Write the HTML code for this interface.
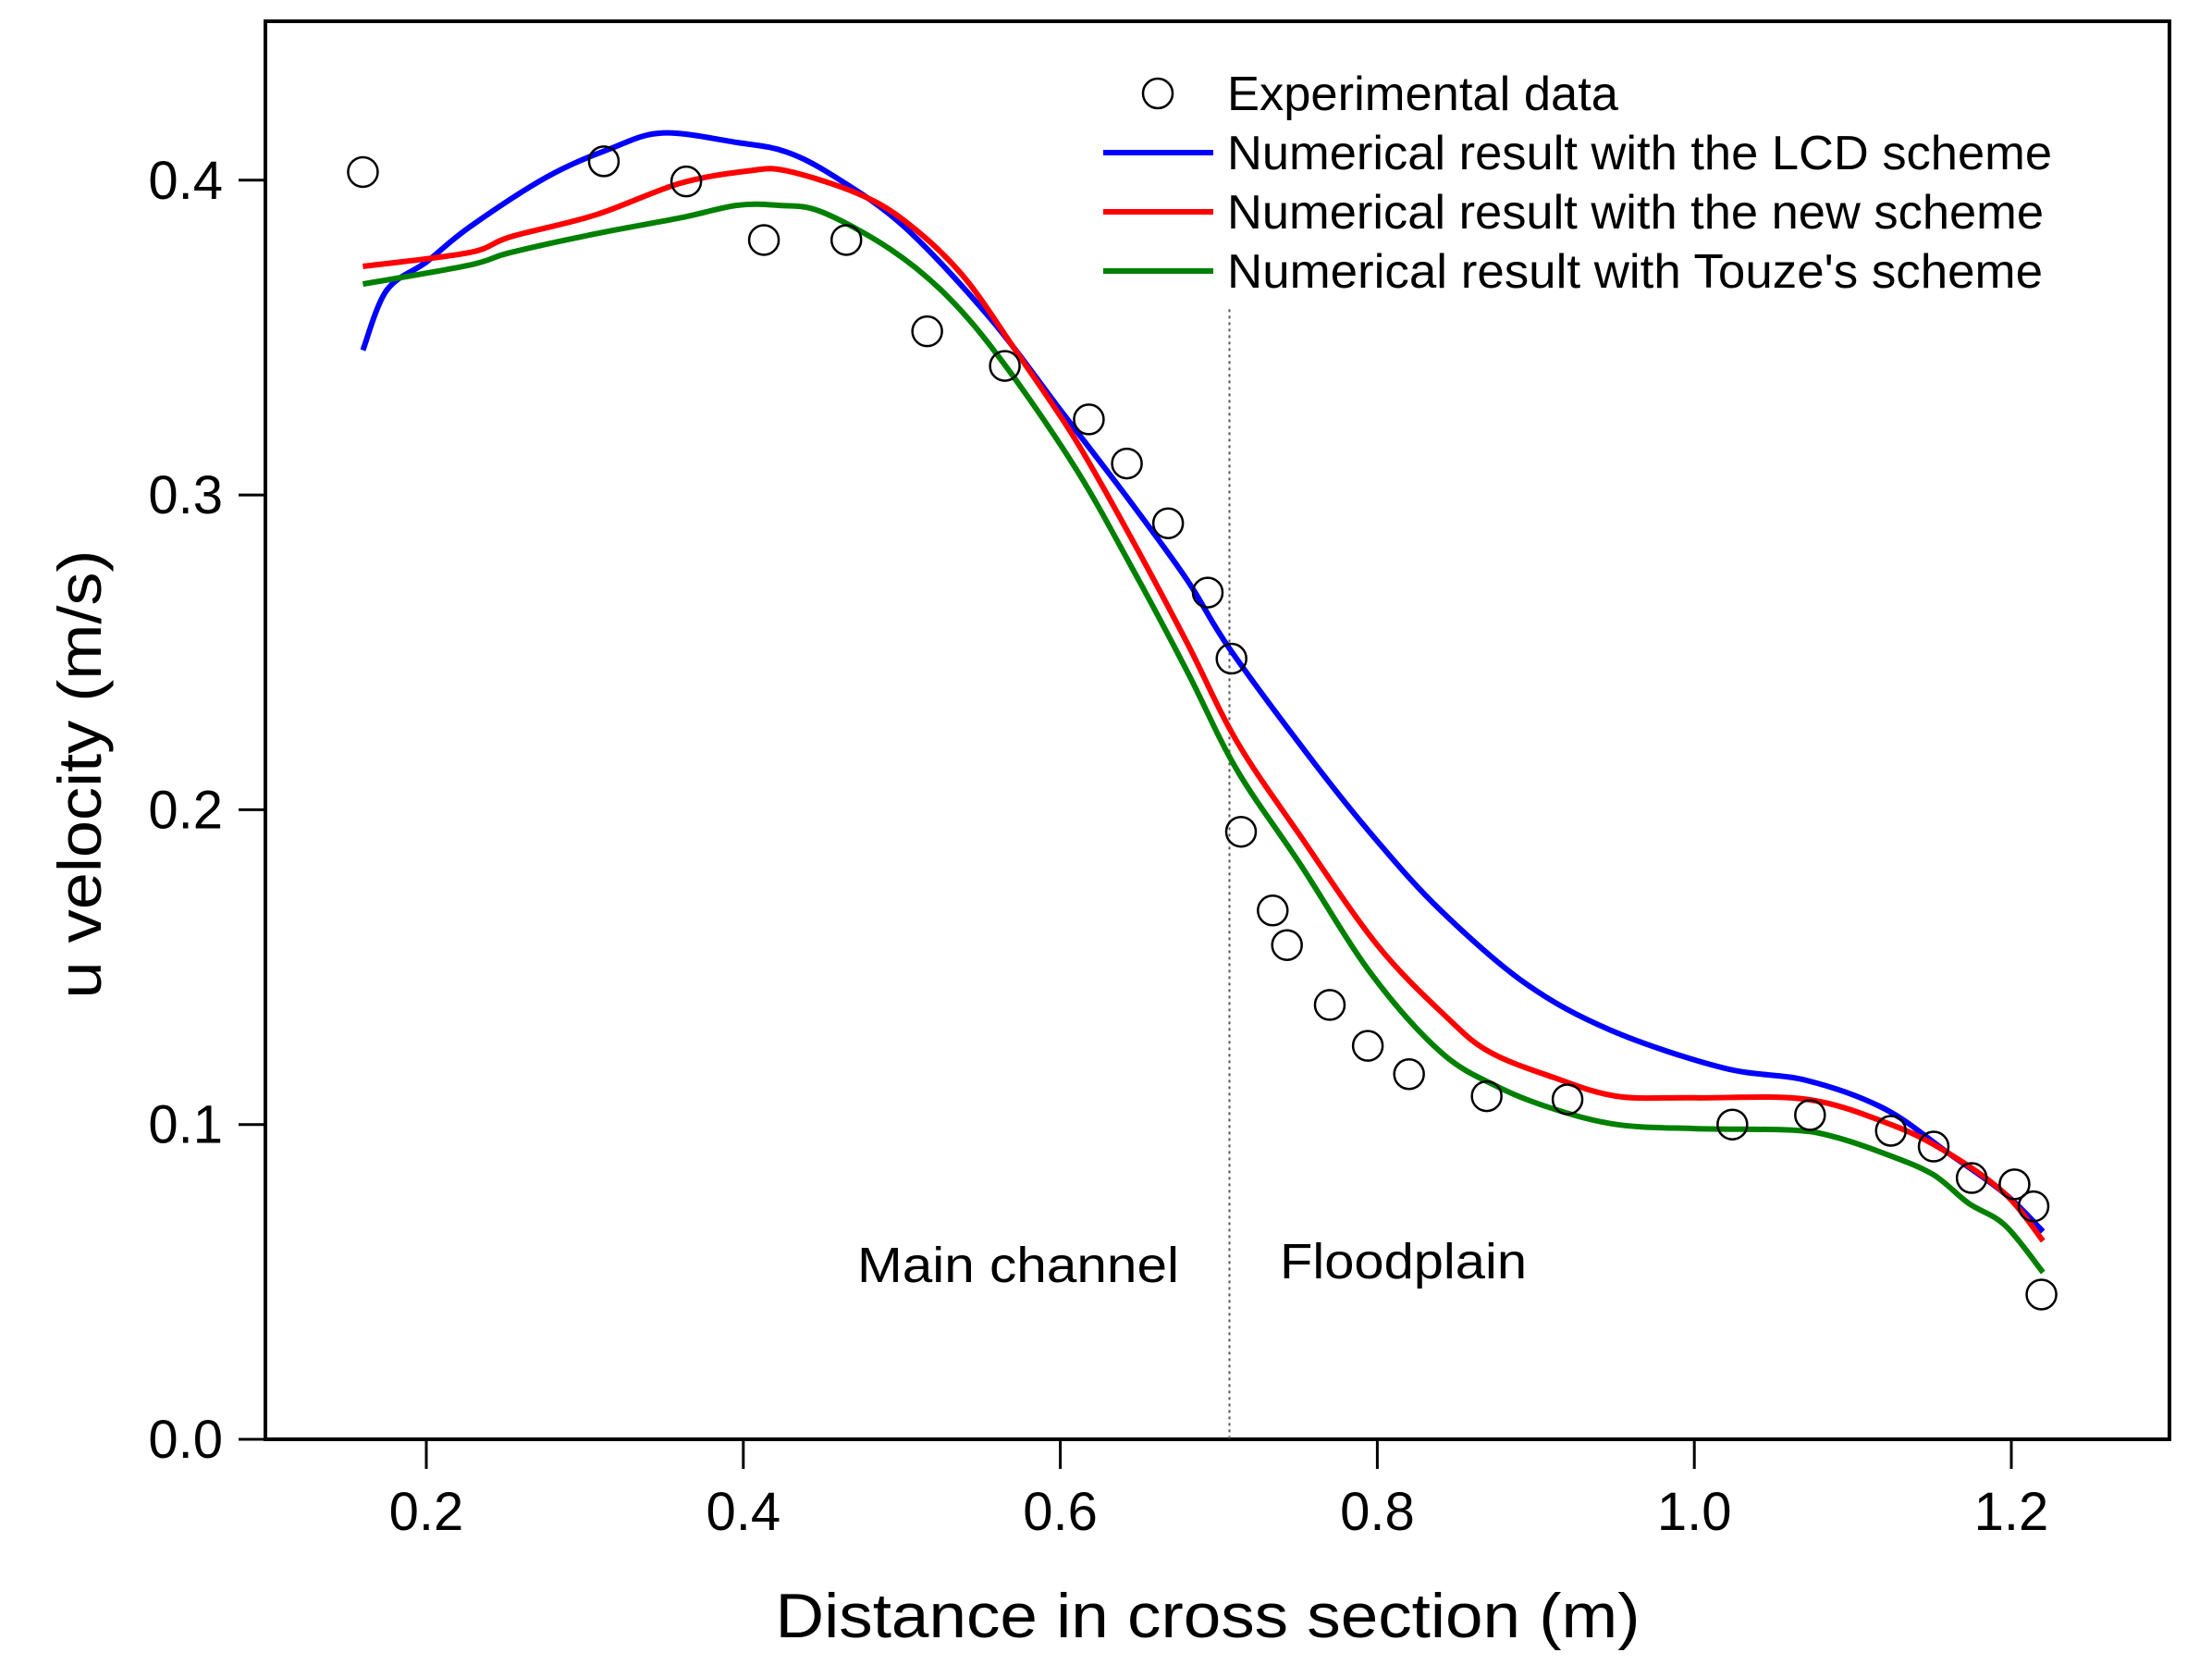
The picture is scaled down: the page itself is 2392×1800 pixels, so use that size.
<!DOCTYPE html>
<html>
<head>
<meta charset="utf-8">
<style>
  html, body { margin: 0; padding: 0; background: #fff; }
  svg { display: block; }
  text { font-family: "Liberation Sans", Arial, sans-serif; fill: #000; }
</style>
</head>
<body>
<svg id="chart" width="2392" height="1800" viewBox="0 0 2392 1800" xmlns="http://www.w3.org/2000/svg">
  <rect x="0" y="0" width="2392" height="1800" fill="#fff"/>
  <g id="plot"></g>
</svg>
<script>
const xTicks = [0.2, 0.4, 0.6, 0.8, 1.0, 1.2];
const xTickLabels = ["0.2", "0.4", "0.6", "0.8", "1.0", "1.2"];
const yTicks = [0.0, 0.1, 0.2, 0.3, 0.4];
const yTickLabels = ["0.0", "0.1", "0.2", "0.3", "0.4"];

const expX = [0.16,0.312,0.364,0.413,0.465,0.516,0.565,0.618,0.642,0.668,0.693,0.708,0.714,0.734,0.743,0.770,0.794,0.820,0.869,0.920,1.024,1.073,1.124,1.151,1.175,1.202,1.214,1.219];
const expY = [0.4026,0.406,0.3996,0.381,0.381,0.352,0.341,0.324,0.310,0.291,0.269,0.248,0.193,0.168,0.157,0.138,0.125,0.116,0.109,0.108,0.100,0.103,0.098,0.093,0.083,0.081,0.074,0.046];

const lcdX = [0.16,0.175,0.2,0.227,0.276,0.316,0.349,0.396,0.427,0.458,0.502,0.556,0.6,0.644,0.68,0.707,0.76,0.8,0.84,0.893,0.947,1.018,1.071,1.12,1.16,1.196,1.22];
const lcdY = [0.346,0.365,0.374,0.385,0.401,0.410,0.415,0.412,0.409,0.401,0.385,0.356,0.327,0.298,0.273,0.251,0.215,0.190,0.168,0.145,0.130,0.118,0.114,0.105,0.091,0.078,0.066];

const newX = [0.16,0.227,0.253,0.307,0.36,0.404,0.427,0.471,0.502,0.538,0.573,0.609,0.644,0.68,0.711,0.751,0.8,0.844,0.871,0.911,0.951,1.0,1.071,1.124,1.16,1.196,1.22];
const newY = [0.3726,0.377,0.382,0.389,0.399,0.403,0.403,0.396,0.387,0.370,0.345,0.318,0.287,0.253,0.222,0.192,0.157,0.134,0.123,0.115,0.109,0.1085,0.108,0.100,0.091,0.078,0.063];

const touzeX = [0.16,0.227,0.253,0.307,0.36,0.396,0.422,0.449,0.493,0.529,0.564,0.609,0.644,0.68,0.711,0.751,0.796,0.84,0.876,0.911,0.951,1.0,1.062,1.089,1.124,1.151,1.173,1.196,1.22];
const touzeY = [0.367,0.373,0.377,0.383,0.388,0.392,0.392,0.390,0.378,0.363,0.342,0.309,0.278,0.244,0.213,0.183,0.148,0.123,0.112,0.105,0.100,0.0987,0.0982,0.096,0.090,0.084,0.075,0.068,0.053];

const dividerX = 0.7067;
const dividerTop = 0.359;

const NS = "http://www.w3.org/2000/svg";
const L = 287, R = 2346, T = 23, B = 1556;
function sx(v) { return 461 + (v - 0.2) * 1714; }
function sy(v) { return B - v * 3403; }
const plot = document.getElementById('plot');
function mk(tag, attrs) {
  const e = document.createElementNS(NS, tag);
  for (const k in attrs) e.setAttribute(k, attrs[k]);
  plot.appendChild(e);
  return e;
}

let fr = mk('rect', {x: L, y: T, width: R - L, height: B - T, fill: 'none', stroke: '#000', 'stroke-width': 4});



xTicks.forEach((v, i) => {
  let t = mk('line', {x1: sx(v), x2: sx(v), y1: B, y2: B + 32, stroke: '#000', 'stroke-width': 3});
  
  
  let tx = mk('text', {x: sx(v), y: 1654, 'font-size': 58, 'text-anchor': 'middle'});
  tx.textContent = xTickLabels[i];
  
  
});
yTicks.forEach((v, i) => {
  let t = mk('line', {x1: L - 29, x2: L, y1: sy(v), y2: sy(v), stroke: '#000', 'stroke-width': 3});
  
  
  let tx = mk('text', {x: 241, y: sy(v) + 20, 'font-size': 58, 'text-anchor': 'end'});
  tx.textContent = yTickLabels[i];
  
  
});

let xt = mk('text', {x: 1306, y: 1770, 'font-size': 68, 'text-anchor': 'middle', textLength: 935, lengthAdjust: 'spacingAndGlyphs'});
xt.textContent = 'Distance in cross section (m)';


let yt = mk('text', {x: 0, y: 0, 'font-size': 66, 'text-anchor': 'middle', textLength: 485, lengthAdjust: 'spacingAndGlyphs', transform: 'translate(109,837) rotate(-90)'});
yt.textContent = 'u velocity (m/s)';



let dv = mk('line', {x1: sx(dividerX), x2: sx(dividerX), y1: sy(dividerTop), y2: B, stroke: '#555', 'stroke-width': 2, 'stroke-dasharray': '3,4'});


let mc = mk('text', {x: 927, y: 1386, 'font-size': 54, textLength: 348, lengthAdjust: 'spacingAndGlyphs'});
mc.textContent = 'Main channel';


let fp = mk('text', {x: 1384, y: 1382, 'font-size': 54, textLength: 267, lengthAdjust: 'spacingAndGlyphs'});
fp.textContent = 'Floodplain';



function line(xs, ys, color, name) {
  const P = xs.map((x, i) => [sx(x), sy(ys[i])]);
  let d = 'M' + P[0][0].toFixed(1) + ' ' + P[0][1].toFixed(1);
  for (let i = 0; i < P.length - 1; i++) {
    const p0 = P[Math.max(0, i - 1)], p1 = P[i], p2 = P[i + 1], p3 = P[Math.min(P.length - 1, i + 2)];
    const c1 = [p1[0] + (p2[0] - p0[0]) / 6, p1[1] + (p2[1] - p0[1]) / 6];
    const c2 = [p2[0] - (p3[0] - p1[0]) / 6, p2[1] - (p3[1] - p1[1]) / 6];
    d += ' C' + c1[0].toFixed(1) + ' ' + c1[1].toFixed(1) + ' ' + c2[0].toFixed(1) + ' ' + c2[1].toFixed(1) + ' ' + p2[0].toFixed(1) + ' ' + p2[1].toFixed(1);
  }
  const p = mk('path', {d: d, fill: 'none', stroke: color, 'stroke-width': 6, 'stroke-linejoin': 'round'});
  
  
}
line(lcdX, lcdY, '#0000ff', 'lcd-scheme-line');
line(newX, newY, '#ff0000', 'new-scheme-line');
line(touzeX, touzeY, '#008000', 'touze-scheme-line');

expX.forEach((x, i) => {
  const c = mk('circle', {cx: sx(x), cy: sy(expY[i]), r: 16, fill: 'none', stroke: '#000', 'stroke-width': 2.5});
  
  
});

const legY = [101, 165, 229, 293];
const legText = ['Experimental data', 'Numerical result with the LCD scheme', 'Numerical result with the new scheme', "Numerical result with Touze's scheme"];
const legLen = [423, 892, 883, 882];
const legColor = [null, '#0000ff', '#ff0000', '#008000'];
legText.forEach((s, i) => {
  if (i === 0) {
    const c = mk('circle', {cx: 1252, cy: legY[i], r: 16, fill: 'none', stroke: '#000', 'stroke-width': 2.5});
    
    
  } else {
    const l = mk('line', {x1: 1193, x2: 1312, y1: legY[i], y2: legY[i], stroke: legColor[i], 'stroke-width': 6});
    
    
  }
  const t = mk('text', {x: 1327, y: legY[i] + 18, 'font-size': 52, textLength: legLen[i], lengthAdjust: 'spacingAndGlyphs'});
  t.textContent = s;
  
  
});
</script>
</body>
</html>
